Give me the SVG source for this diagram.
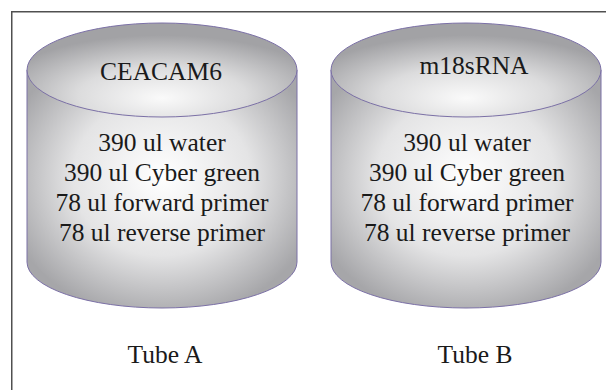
<svg xmlns="http://www.w3.org/2000/svg" width="606" height="390" viewBox="0 0 606 390">
  <style>
    .frame { fill: none; stroke: #505050; stroke-width: 1.5; }
    .body { fill: url(#bodyGrad); stroke: #7b70a6; stroke-width: 1; }
    .lid { fill: url(#lidGrad); stroke: #7b70a6; stroke-width: 1; }
    text { font-family: "Liberation Serif", "Times New Roman", serif; font-size: 25.5px; fill: #1a1a1a; text-anchor: middle; }
  </style>
  <defs>
    <radialGradient id="bodyGrad" cx="0.5" cy="0.45" r="0.6" fx="0.5" fy="0.45">
      <stop offset="0" stop-color="#ffffff"/>
      <stop offset="0.55" stop-color="#e4e4e5"/>
      <stop offset="1" stop-color="#a6a6a9"/>
    </radialGradient>
    <radialGradient id="lidGrad" cx="0.5" cy="0.75" r="0.62" fx="0.5" fy="0.8">
      <stop offset="0" stop-color="#fafafa"/>
      <stop offset="0.5" stop-color="#dcdcdd"/>
      <stop offset="1" stop-color="#a2a2a5"/>
    </radialGradient>
  </defs>
  <rect width="606" height="390" fill="#ffffff"/>
  <path class="frame" d="M11.75 390 V11.75 H606"/>

  <g id="tubeA">
    <path class="body" d="M27 70 V262 A135 46 0 0 0 297 262 V70 Z"/>
    <ellipse class="lid" cx="162" cy="70" rx="135" ry="47"/>
    <text x="161" y="80">CEACAM6</text>
    <text x="162" y="151">390 ul water</text>
    <text x="162" y="181">390 ul Cyber green</text>
    <text x="162" y="211">78 ul forward primer</text>
    <text x="162" y="241">78 ul reverse primer</text>
    <text x="165" y="363">Tube A</text>
  </g>

  <g id="tubeB">
    <path class="body" d="M331 70 V262 A135 46 0 0 0 601 262 V70 Z"/>
    <ellipse class="lid" cx="466" cy="70" rx="135" ry="47"/>
    <text x="474" y="74">m18sRNA</text>
    <text x="467" y="151">390 ul water</text>
    <text x="467" y="181">390 ul Cyber green</text>
    <text x="467" y="211">78 ul forward primer</text>
    <text x="467" y="241">78 ul reverse primer</text>
    <text x="475" y="363">Tube B</text>
  </g>
</svg>
